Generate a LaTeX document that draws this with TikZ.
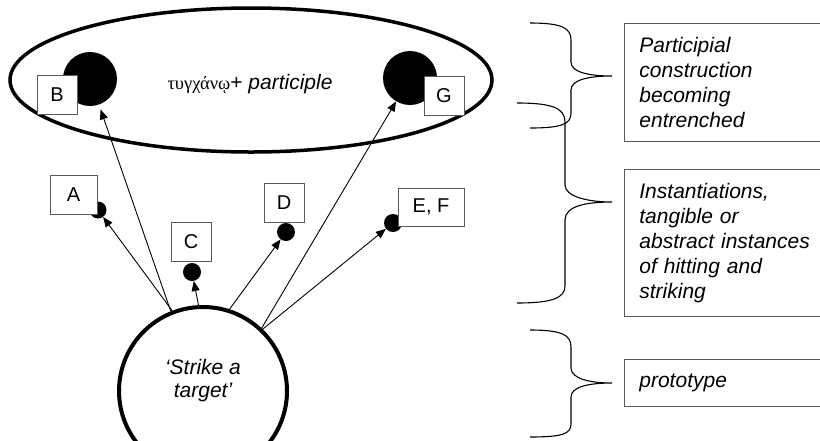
\documentclass[tikz,border=0pt]{standalone}
\usepackage{fontspec}
\setmainfont{Liberation Sans}
\newfontfamily\greekfont{Liberation Serif}
\usetikzlibrary{arrows.meta,shapes.geometric}
\begin{document}
\begin{tikzpicture}[x=1pt,y=-1pt,
  letterbox/.style={draw=gray!70!black, line width=0.8pt, fill=white, inner sep=0pt,
    minimum width=40pt, minimum height=39pt, font=\fontsize{20}{20}\selectfont},
  dot/.style={circle, fill=black, inner sep=0pt, minimum size=18pt},
  bigdot/.style={circle, fill=black, inner sep=0pt, minimum size=54pt},
  arr/.style={line width=0.9pt, -{Triangle[length=10pt,width=8pt]}},
  brace/.style={line width=1.1pt},
  rightbox/.style={draw=gray!70!black, line width=0.8pt, anchor=north west,
    text width=185pt, inner xsep=15pt, inner ysep=0pt, align=left,
    font=\itshape\fontsize{21}{25}\selectfont}]
\clip (0,0) rectangle (820,440);
\fill[white] (0,0) rectangle (820,440);

% ellipse of the participial construction
\node[ellipse, draw, line width=3.5pt, minimum width=482pt, minimum height=144pt, inner sep=0pt] (constr) at (251,80) {};
\node[inner sep=0pt] (greek) at (250,84) {{\greekfont\fontsize{18.5}{18.5}\selectfont τυγχάνῳ}{\fontsize{21}{21}\selectfont + \textit{participle}}};

% prototype circle
\node[circle, draw, line width=4pt, minimum size=168pt, inner sep=0pt] (strike) at (203,391) {};
\node[align=center, font=\itshape\fontsize{21}{23}\selectfont] (strikelabel) at (203,381) {‘Strike a\\ target’};

% dots
\node[bigdot] (dB) at (90,79) {};
\node[bigdot] (dG) at (410,78) {};
\node[dot, minimum size=17pt] (dA) at (98,210) {};
\node[dot] (dC) at (192,272) {};
\node[dot] (dD) at (286,232) {};
\node[dot] (dEF) at (393,223) {};

% letter boxes
\node[letterbox] (bB) at (57,95) {B};
\node[letterbox] (bG) at (444,96) {G};
\node[letterbox, minimum width=47pt] (bA) at (73.5,194.5) {A};
\node[letterbox] (bC) at (191,242) {C};
\node[letterbox] (bD) at (284,203) {D};
\node[letterbox, minimum width=66pt, minimum height=38pt] (bEF) at (431,207) {E, F};

% arrows
\draw[arr] (strike.111) -- (dA);
\draw[arr, shorten >=5pt] (strike.112) -- (dB);
\draw[arr] (strike.93) -- (dC);
\draw[arr] (strike.72) -- (dD);
\draw[arr] (strike.46) -- (dEF);
\draw[arr] (strike.47) -- (dG);

% braces
\draw[brace] (530,23) .. controls (562,23) and (571,28) .. (571,40) -- (571,62)
  .. controls (571,72) and (588,76) .. (612,76)
  .. controls (588,76) and (571,80) .. (571,90) -- (571,113)
  .. controls (571,124) and (562,128) .. (530,128);
\draw[brace] (517,103) .. controls (552,103) and (565,108) .. (565,122) -- (565,185)
  .. controls (565,196) and (586,202) .. (612,202)
  .. controls (586,202) and (565,206) .. (565,220) -- (565,286)
  .. controls (565,298) and (552,303) .. (517,303);
\draw[brace] (530,330) .. controls (562,330) and (571,335) .. (571,347) -- (571,368)
  .. controls (571,378) and (588,383) .. (612,383)
  .. controls (588,383) and (571,387) .. (571,397) -- (571,424)
  .. controls (571,434) and (562,437) .. (530,437);

% right boxes
\node[rightbox, minimum height=118pt] (t1) at (624,23) {Participial\\ construction\\ becoming\\ entrenched};
\node[rightbox, minimum height=147pt] (t2) at (624,169) {Instantiations,\\ tangible or\\ abstract instances\\ of hitting and\\ striking};
\node[rightbox, minimum height=47pt] (t3) at (624,359) {prototype};
\end{tikzpicture}
\end{document}
